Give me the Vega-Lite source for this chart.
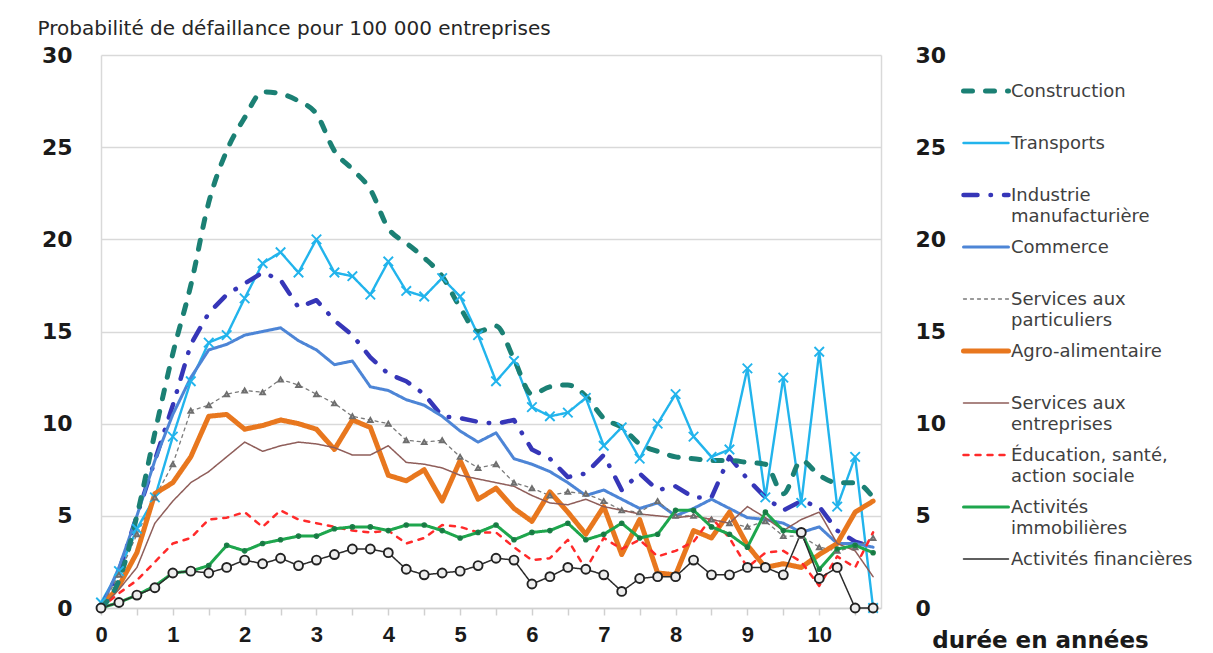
{
  "$schema": "https://vega.github.io/schema/vega-lite/v6.json",
  "width": 780,
  "height": 553,
  "autosize": {"type": "none"},
  "padding": {"left": 101, "top": 55, "right": 332, "bottom": 45},
  "background": "white",
  "config": {"view": {"stroke": null}, "font": "DejaVu Sans"},
  "data": {"values": [
    {"t": 0, "Construction": 0, "Transports": 0.3, "Industrie manufacturière": 0, "Commerce": 0, "Services aux particuliers": 0, "Agro-alimentaire": 0, "Services aux entreprises": 0, "Éducation, santé, action sociale": 0, "Activités immobilières": 0, "Activités financières": 0},
    {"t": 0.25, "Construction": 1.5, "Transports": 2.0, "Industrie manufacturière": 2.0, "Commerce": 2.2, "Services aux particuliers": 1.8, "Agro-alimentaire": 1.2, "Services aux entreprises": 1.0, "Éducation, santé, action sociale": 0.8, "Activités immobilières": 0.3, "Activités financières": 0.3},
    {"t": 0.5, "Construction": 5.0, "Transports": 4.3, "Industrie manufacturière": 5.0, "Commerce": 5.0, "Services aux particuliers": 4.0, "Agro-alimentaire": 3.0, "Services aux entreprises": 2.2, "Éducation, santé, action sociale": 1.5, "Activités immobilières": 0.7, "Activités financières": 0.7},
    {"t": 0.75, "Construction": 9.5, "Transports": 6.0, "Industrie manufacturière": 8.0, "Commerce": 8.0, "Services aux particuliers": 6.0, "Agro-alimentaire": 6.2, "Services aux entreprises": 4.6, "Éducation, santé, action sociale": 2.5, "Activités immobilières": 1.2, "Activités financières": 1.1},
    {"t": 1.0, "Construction": 13.8, "Transports": 9.3, "Industrie manufacturière": 11.0, "Commerce": 10.5, "Services aux particuliers": 7.8, "Agro-alimentaire": 6.8, "Services aux entreprises": 5.8, "Éducation, santé, action sociale": 3.5, "Activités immobilières": 1.9, "Activités financières": 1.9},
    {"t": 1.25, "Construction": 17.5, "Transports": 12.3, "Industrie manufacturière": 14.3, "Commerce": 12.5, "Services aux particuliers": 10.7, "Agro-alimentaire": 8.2, "Services aux entreprises": 6.8, "Éducation, santé, action sociale": 3.8, "Activités immobilières": 2.0, "Activités financières": 2.0},
    {"t": 1.5, "Construction": 22.0, "Transports": 14.4, "Industrie manufacturière": 16.0, "Commerce": 14.0, "Services aux particuliers": 11.0, "Agro-alimentaire": 10.4, "Services aux entreprises": 7.4, "Éducation, santé, action sociale": 4.8, "Activités immobilières": 2.3, "Activités financières": 1.9},
    {"t": 1.75, "Construction": 24.8, "Transports": 14.8, "Industrie manufacturière": 17.0, "Commerce": 14.3, "Services aux particuliers": 11.6, "Agro-alimentaire": 10.5, "Services aux entreprises": 8.2, "Éducation, santé, action sociale": 4.9, "Activités immobilières": 3.4, "Activités financières": 2.2},
    {"t": 2.0, "Construction": 26.6, "Transports": 16.8, "Industrie manufacturière": 17.6, "Commerce": 14.8, "Services aux particuliers": 11.8, "Agro-alimentaire": 9.7, "Services aux entreprises": 9.0, "Éducation, santé, action sociale": 5.2, "Activités immobilières": 3.1, "Activités financières": 2.6},
    {"t": 2.25, "Construction": 28.0, "Transports": 18.7, "Industrie manufacturière": 18.2, "Commerce": 15.0, "Services aux particuliers": 11.7, "Agro-alimentaire": 9.9, "Services aux entreprises": 8.5, "Éducation, santé, action sociale": 4.4, "Activités immobilières": 3.5, "Activités financières": 2.4},
    {"t": 2.5, "Construction": 27.9, "Transports": 19.3, "Industrie manufacturière": 17.8, "Commerce": 15.2, "Services aux particuliers": 12.4, "Agro-alimentaire": 10.2, "Services aux entreprises": 8.8, "Éducation, santé, action sociale": 5.3, "Activités immobilières": 3.7, "Activités financières": 2.7},
    {"t": 2.75, "Construction": 27.5, "Transports": 18.2, "Industrie manufacturière": 16.3, "Commerce": 14.5, "Services aux particuliers": 12.1, "Agro-alimentaire": 10.0, "Services aux entreprises": 9.0, "Éducation, santé, action sociale": 4.8, "Activités immobilières": 3.9, "Activités financières": 2.3},
    {"t": 3.0, "Construction": 26.8, "Transports": 20.0, "Industrie manufacturière": 16.7, "Commerce": 14.0, "Services aux particuliers": 11.6, "Agro-alimentaire": 9.7, "Services aux entreprises": 8.9, "Éducation, santé, action sociale": 4.6, "Activités immobilières": 3.9, "Activités financières": 2.6},
    {"t": 3.25, "Construction": 24.8, "Transports": 18.2, "Industrie manufacturière": 15.6, "Commerce": 13.2, "Services aux particuliers": 11.1, "Agro-alimentaire": 8.6, "Services aux entreprises": 8.7, "Éducation, santé, action sociale": 4.4, "Activités immobilières": 4.3, "Activités financières": 2.9},
    {"t": 3.5, "Construction": 23.8, "Transports": 18.0, "Industrie manufacturière": 14.8, "Commerce": 13.4, "Services aux particuliers": 10.4, "Agro-alimentaire": 10.2, "Services aux entreprises": 8.3, "Éducation, santé, action sociale": 4.2, "Activités immobilières": 4.4, "Activités financières": 3.2},
    {"t": 3.75, "Construction": 22.7, "Transports": 17.0, "Industrie manufacturière": 13.6, "Commerce": 12.0, "Services aux particuliers": 10.2, "Agro-alimentaire": 9.8, "Services aux entreprises": 8.3, "Éducation, santé, action sociale": 4.1, "Activités immobilières": 4.4, "Activités financières": 3.2},
    {"t": 4.0, "Construction": 20.6, "Transports": 18.8, "Industrie manufacturière": 12.7, "Commerce": 11.8, "Services aux particuliers": 10.0, "Agro-alimentaire": 7.2, "Services aux entreprises": 8.8, "Éducation, santé, action sociale": 4.2, "Activités immobilières": 4.2, "Activités financières": 3.0},
    {"t": 4.25, "Construction": 19.8, "Transports": 17.2, "Industrie manufacturière": 12.3, "Commerce": 11.3, "Services aux particuliers": 9.1, "Agro-alimentaire": 6.9, "Services aux entreprises": 7.9, "Éducation, santé, action sociale": 3.5, "Activités immobilières": 4.5, "Activités financières": 2.1},
    {"t": 4.5, "Construction": 19.0, "Transports": 16.9, "Industrie manufacturière": 11.6, "Commerce": 11.0, "Services aux particuliers": 9.0, "Agro-alimentaire": 7.5, "Services aux entreprises": 7.8, "Éducation, santé, action sociale": 3.8, "Activités immobilières": 4.5, "Activités financières": 1.8},
    {"t": 4.75, "Construction": 18.0, "Transports": 17.9, "Industrie manufacturière": 10.4, "Commerce": 10.4, "Services aux particuliers": 9.1, "Agro-alimentaire": 5.8, "Services aux entreprises": 7.6, "Éducation, santé, action sociale": 4.5, "Activités immobilières": 4.2, "Activités financières": 1.9},
    {"t": 5.0, "Construction": 16.3, "Transports": 16.9, "Industrie manufacturière": 10.3, "Commerce": 9.6, "Services aux particuliers": 8.2, "Agro-alimentaire": 8.0, "Services aux entreprises": 7.2, "Éducation, santé, action sociale": 4.4, "Activités immobilières": 3.8, "Activités financières": 2.0},
    {"t": 5.25, "Construction": 15.0, "Transports": 14.8, "Industrie manufacturière": 10.1, "Commerce": 9.0, "Services aux particuliers": 7.6, "Agro-alimentaire": 5.9, "Services aux entreprises": 7.0, "Éducation, santé, action sociale": 4.1, "Activités immobilières": 4.1, "Activités financières": 2.3},
    {"t": 5.5, "Construction": 15.3, "Transports": 12.3, "Industrie manufacturière": 10.0, "Commerce": 9.5, "Services aux particuliers": 7.8, "Agro-alimentaire": 6.5, "Services aux entreprises": 6.8, "Éducation, santé, action sociale": 4.1, "Activités immobilières": 4.5, "Activités financières": 2.7},
    {"t": 5.75, "Construction": 13.5, "Transports": 13.4, "Industrie manufacturière": 10.2, "Commerce": 8.1, "Services aux particuliers": 6.8, "Agro-alimentaire": 5.4, "Services aux entreprises": 6.6, "Éducation, santé, action sociale": 3.3, "Activités immobilières": 3.7, "Activités financières": 2.6},
    {"t": 6.0, "Construction": 11.6, "Transports": 10.9, "Industrie manufacturière": 8.6, "Commerce": 7.8, "Services aux particuliers": 6.5, "Agro-alimentaire": 4.7, "Services aux entreprises": 6.1, "Éducation, santé, action sociale": 2.6, "Activités immobilières": 4.1, "Activités financières": 1.3},
    {"t": 6.25, "Construction": 12.0, "Transports": 10.4, "Industrie manufacturière": 8.1, "Commerce": 7.4, "Services aux particuliers": 6.1, "Agro-alimentaire": 6.3, "Services aux entreprises": 5.7, "Éducation, santé, action sociale": 2.7, "Activités immobilières": 4.2, "Activités financières": 1.7},
    {"t": 6.5, "Construction": 12.1, "Transports": 10.6, "Industrie manufacturière": 7.1, "Commerce": 6.8, "Services aux particuliers": 6.3, "Agro-alimentaire": 5.2, "Services aux entreprises": 5.6, "Éducation, santé, action sociale": 3.7, "Activités immobilières": 4.6, "Activités financières": 2.2},
    {"t": 6.75, "Construction": 11.5, "Transports": 11.4, "Industrie manufacturière": 7.3, "Commerce": 6.1, "Services aux particuliers": 6.2, "Agro-alimentaire": 4.0, "Services aux entreprises": 5.9, "Éducation, santé, action sociale": 2.1, "Activités immobilières": 3.7, "Activités financières": 2.1},
    {"t": 7.0, "Construction": 10.3, "Transports": 8.8, "Industrie manufacturière": 8.3, "Commerce": 6.4, "Services aux particuliers": 5.8, "Agro-alimentaire": 5.5, "Services aux entreprises": 5.5, "Éducation, santé, action sociale": 3.8, "Activités immobilières": 4.0, "Activités financières": 1.8},
    {"t": 7.25, "Construction": 9.8, "Transports": 9.8, "Industrie manufacturière": 6.4, "Commerce": 5.9, "Services aux particuliers": 5.3, "Agro-alimentaire": 2.9, "Services aux entreprises": 5.3, "Éducation, santé, action sociale": 3.2, "Activités immobilières": 4.6, "Activités financières": 0.9},
    {"t": 7.5, "Construction": 8.9, "Transports": 8.1, "Industrie manufacturière": 7.3, "Commerce": 5.4, "Services aux particuliers": 5.2, "Agro-alimentaire": 4.8, "Services aux entreprises": 5.1, "Éducation, santé, action sociale": 3.7, "Activités immobilières": 3.8, "Activités financières": 1.6},
    {"t": 7.75, "Construction": 8.5, "Transports": 10.0, "Industrie manufacturière": 6.4, "Commerce": 5.7, "Services aux particuliers": 5.8, "Agro-alimentaire": 1.9, "Services aux entreprises": 5.0, "Éducation, santé, action sociale": 2.8, "Activités immobilières": 4.0, "Activités financières": 1.7},
    {"t": 8.0, "Construction": 8.2, "Transports": 11.6, "Industrie manufacturière": 6.6, "Commerce": 5.0, "Services aux particuliers": 5.0, "Agro-alimentaire": 1.8, "Services aux entreprises": 4.9, "Éducation, santé, action sociale": 3.1, "Activités immobilières": 5.3, "Activités financières": 1.7},
    {"t": 8.25, "Construction": 8.1, "Transports": 9.3, "Industrie manufacturière": 6.0, "Commerce": 5.4, "Services aux particuliers": 5.0, "Agro-alimentaire": 4.2, "Services aux entreprises": 5.0, "Éducation, santé, action sociale": 3.6, "Activités immobilières": 5.3, "Activités financières": 2.6},
    {"t": 8.5, "Construction": 8.0, "Transports": 8.2, "Industrie manufacturière": 6.0, "Commerce": 5.9, "Services aux particuliers": 4.8, "Agro-alimentaire": 3.8, "Services aux entreprises": 4.8, "Éducation, santé, action sociale": 4.9, "Activités immobilières": 4.4, "Activités financières": 1.8},
    {"t": 8.75, "Construction": 8.0, "Transports": 8.6, "Industrie manufacturière": 8.2, "Commerce": 5.4, "Services aux particuliers": 4.6, "Agro-alimentaire": 5.2, "Services aux entreprises": 4.6, "Éducation, santé, action sociale": 3.8, "Activités immobilières": 4.0, "Activités financières": 1.8},
    {"t": 9.0, "Construction": 7.9, "Transports": 13.0, "Industrie manufacturière": 7.0, "Commerce": 4.9, "Services aux particuliers": 4.4, "Agro-alimentaire": 3.4, "Services aux entreprises": 5.5, "Éducation, santé, action sociale": 2.2, "Activités immobilières": 3.3, "Activités financières": 2.2},
    {"t": 9.25, "Construction": 7.8, "Transports": 6.0, "Industrie manufacturière": 6.0, "Commerce": 4.8, "Services aux particuliers": 4.7, "Agro-alimentaire": 2.2, "Services aux entreprises": 4.9, "Éducation, santé, action sociale": 3.0, "Activités immobilières": 5.2, "Activités financières": 2.2},
    {"t": 9.5, "Construction": 6.2, "Transports": 12.5, "Industrie manufacturière": 5.3, "Commerce": 4.6, "Services aux particuliers": 3.9, "Agro-alimentaire": 2.4, "Services aux entreprises": 4.2, "Éducation, santé, action sociale": 3.1, "Activités immobilières": 4.2, "Activités financières": 1.8},
    {"t": 9.75, "Construction": 8.0, "Transports": 5.7, "Industrie manufacturière": 5.8, "Commerce": 4.1, "Services aux particuliers": 3.9, "Agro-alimentaire": 2.2, "Services aux entreprises": 4.8, "Éducation, santé, action sociale": 2.5, "Activités immobilières": 4.1, "Activités financières": 4.1},
    {"t": 10.0, "Construction": 7.2, "Transports": 13.9, "Industrie manufacturière": 5.5, "Commerce": 4.4, "Services aux particuliers": 3.3, "Agro-alimentaire": 2.9, "Services aux entreprises": 5.2, "Éducation, santé, action sociale": 1.2, "Activités immobilières": 2.1, "Activités financières": 1.6},
    {"t": 10.25, "Construction": 6.8, "Transports": 5.5, "Industrie manufacturière": 4.2, "Commerce": 3.5, "Services aux particuliers": 3.1, "Agro-alimentaire": 3.5, "Services aux entreprises": 3.5, "Éducation, santé, action sociale": 2.8, "Activités immobilières": 3.2, "Activités financières": 2.2},
    {"t": 10.5, "Construction": 6.8, "Transports": 8.2, "Industrie manufacturière": 3.6, "Commerce": 3.5, "Services aux particuliers": 3.3, "Agro-alimentaire": 5.2, "Services aux entreprises": 3.1, "Éducation, santé, action sociale": 2.2, "Activités immobilières": 3.4, "Activités financières": 0},
    {"t": 10.75, "Construction": 6.0, "Transports": 0, "Industrie manufacturière": 3.3, "Commerce": 3.3, "Services aux particuliers": 3.8, "Agro-alimentaire": 5.8, "Services aux entreprises": 1.7, "Éducation, santé, action sociale": 4.1, "Activités immobilières": 3.0, "Activités financières": 0}
  ]},
  "transform": [
    {"fold": ["Construction", "Transports", "Industrie manufacturière", "Commerce", "Services aux particuliers", "Agro-alimentaire", "Services aux entreprises", "Éducation, santé, action sociale", "Activités immobilières", "Activités financières"], "as": ["serie", "v"]}
  ],
  "encoding": {
    "x": {
      "field": "t", "type": "quantitative",
      "scale": {"domain": [0, 10.86], "nice": false, "zero": false},
      "axis": {
        "values": [0, 0.5, 1, 1.5, 2, 2.5, 3, 3.5, 4, 4.5, 5, 5.5, 6, 6.5, 7, 7.5, 8, 8.5, 9, 9.5, 10, 10.5],
        "labelExpr": "datum.value % 1 == 0 ? format(datum.value, 'd') : ''",
        "grid": false, "domainColor": "#d0d0d0", "domainWidth": 1.5, "tickColor": "#d0d0d0", "tickWidth": 1.5, "tickSize": 7,
        "labelFont": "Liberation Sans", "labelFontWeight": "bold", "labelFontSize": 22, "labelColor": "#1a1a1a",
        "labelPadding": 9, "labelOverlap": false, "labelFlush": false,
        "title": "durée en années", "titleX": 939, "titleY": 32, "titleAlign": "center", "titleBaseline": "middle",
        "titleFont": "DejaVu Sans", "titleFontWeight": "bold", "titleFontSize": 23, "titleColor": "#1a1a1a"
      }
    },
    "color": {
      "field": "serie", "type": "nominal",
      "scale": {
        "domain": ["Construction", "Transports", "Industrie manufacturière", "Commerce", "Services aux particuliers", "Agro-alimentaire", "Services aux entreprises", "Éducation, santé, action sociale", "Activités immobilières", "Activités financières"],
        "range": ["#1b8074", "#22b4ec", "#3636b8", "#4d85d6", "#7a7a7a", "#e8771e", "#8f5e5a", "#ff2a2a", "#1ea64d", "#2b2b2b"]
      },
      "legend": {
        "title": null, "orient": "none", "legendX": 860, "legendY": 16,
        "symbolType": "stroke", "symbolSize": 2025, "clipHeight": 52, "rowPadding": 0, "padding": 0,
        "labelFont": "DejaVu Sans", "labelFontSize": 18, "labelColor": "#404040", "labelBaseline": "top",
        "labelOffset": 0, "labelLimit": 300,
        "labelExpr": "datum.label == 'Industrie manufacturière' ? ['Industrie', 'manufacturière'] : datum.label == 'Services aux particuliers' ? ['Services aux', 'particuliers'] : datum.label == 'Services aux entreprises' ? ['Services aux', 'entreprises'] : datum.label == 'Éducation, santé, action sociale' ? ['Éducation, santé,', 'action sociale'] : datum.label == 'Activités immobilières' ? ['Activités', 'immobilières'] : datum.label",
        "encode": {
          "labels": {"update": {"y": {"value": 12}, "lineHeight": {"value": 21}}},
          "symbols": {"update": {"y": {"value": 20}, "strokeCap": {"value": "round"}}}
        }
      }
    },
    "strokeDash": {
      "field": "serie", "type": "nominal",
      "scale": {
        "domain": ["Construction", "Transports", "Industrie manufacturière", "Commerce", "Services aux particuliers", "Agro-alimentaire", "Services aux entreprises", "Éducation, santé, action sociale", "Activités immobilières", "Activités financières"],
        "range": [[9, 13], [1, 0], [14, 13, 0.5, 13], [1, 0], [3, 4], [1, 0], [1, 0], [5, 7], [1, 0], [1, 0]]
      },
      "legend": {"title": null}
    },
    "strokeWidth": {
      "field": "serie", "type": "nominal",
      "scale": {
        "type": "ordinal",
        "domain": ["Construction", "Transports", "Industrie manufacturière", "Commerce", "Services aux particuliers", "Agro-alimentaire", "Services aux entreprises", "Éducation, santé, action sociale", "Activités immobilières", "Activités financières"],
        "range": [5, 2.4, 4.5, 3, 1.3, 5, 1.5, 2.5, 3, 1.5]
      },
      "legend": {"title": null}
    }
  },
  "layer": [
    {
      "transform": [{"filter": "datum.serie != 'Construction'"}],
      "mark": {"type": "line", "strokeCap": "round", "strokeJoin": "round"},
      "encoding": {
        "y": {
          "field": "v", "type": "quantitative",
          "scale": {"domain": [0, 30], "nice": false},
          "axis": {
            "orient": "left", "values": [0, 5, 10, 15, 20, 25, 30],
            "grid": true, "gridColor": "#d9d9d9", "gridWidth": 1.5,
            "domain": true, "domainColor": "#d9d9d9", "domainWidth": 1.5, "ticks": false, "tickSize": 0,
            "labelPadding": 29, "labelFont": "DejaVu Sans", "labelFontWeight": "bold", "labelFontSize": 22, "labelColor": "#1a1a1a",
            "title": "Probabilité de défaillance pour 100 000 entreprises",
            "titleAngle": 0, "titleAlign": "left", "titleBaseline": "middle", "titleX": -64, "titleY": -27,
            "titleFont": "DejaVu Sans", "titleFontWeight": "normal", "titleFontSize": 20, "titleColor": "#262626"
          }
        }
      }
    },
    {
      "transform": [{"filter": "datum.serie == 'Construction'"}],
      "mark": {"type": "line", "interpolate": "monotone", "strokeCap": "round", "strokeJoin": "round"},
      "encoding": {
        "y": {"field": "v", "type": "quantitative", "axis": null}
      }
    },
    {
      "transform": [{"filter": {"field": "serie", "oneOf": ["Transports", "Services aux particuliers", "Activités immobilières", "Activités financières"]}}],
      "mark": {"type": "point", "filled": true, "opacity": 1, "strokeWidth": 1.9},
      "encoding": {
        "color": null,
        "strokeDash": null,
        "strokeWidth": null,
        "y": {
          "field": "v", "type": "quantitative",
          "axis": {
            "orient": "right", "values": [0, 5, 10, 15, 20, 25, 30], "grid": false,
            "domain": true, "domainColor": "#d9d9d9", "domainWidth": 1.5, "ticks": false, "tickSize": 0,
            "labelPadding": 34, "labelFont": "DejaVu Sans", "labelFontWeight": "bold", "labelFontSize": 22, "labelColor": "#1a1a1a",
            "title": null
          }
        },
        "shape": {
          "field": "serie", "type": "nominal",
          "scale": {"domain": ["Transports", "Services aux particuliers", "Activités immobilières", "Activités financières"], "range": ["M-1,-1L1,1M-1,1L1,-1", "triangle-up", "circle", "circle"]},
          "legend": null
        },
        "stroke": {
          "field": "serie", "type": "nominal",
          "scale": {"domain": ["Transports", "Services aux particuliers", "Activités immobilières", "Activités financières"], "range": ["#22b4ec", "#6e6e6e", "#1a7f47", "#222222"]},
          "legend": null
        },
        "fill": {
          "field": "serie", "type": "nominal",
          "scale": {"domain": ["Transports", "Services aux particuliers", "Activités immobilières", "Activités financières"], "range": ["transparent", "#c8c8c8", "#1a6f3f", "#eeeeee"]},
          "legend": null
        },
        "size": {
          "field": "serie", "type": "nominal",
          "scale": {"type": "ordinal", "domain": ["Transports", "Services aux particuliers", "Activités immobilières", "Activités financières"], "range": [90, 22, 14, 80]},
          "legend": null
        }
      }
    }
  ],
  "resolve": {"axis": {"y": "independent"}}
}
